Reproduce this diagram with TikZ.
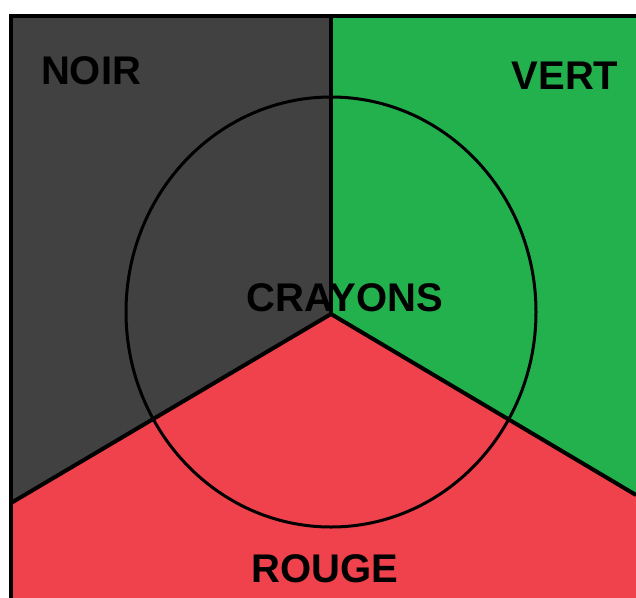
\documentclass[tikz,border=0pt]{standalone}
\usepackage{fontspec}
\setmainfont{Liberation Sans}
\definecolor{noir}{HTML}{414141}
\definecolor{vert}{HTML}{23B14D}
\definecolor{rouge}{HTML}{F0424C}
\tikzset{
  zone/.style={line width=4pt,line join=miter},
  label/.style={font=\fontsize{40}{40}\selectfont\bfseries,inner sep=0pt}
}
\begin{document}
\begin{tikzpicture}[x=1pt,y=-1pt]
\useasboundingbox (0,0) rectangle (636,597);
\clip (0,0) rectangle (636,597);
\coordinate (O) at (331,314);
\coordinate (L) at (11,503);
\coordinate (R) at (636,495);
% the three zones
\fill[noir] (11,16) -- (331,16) -- (O) -- (L) -- cycle;
\fill[vert] (331,16) -- (640,16) -- (640,497) -- (R) -- (O) -- cycle;
\fill[rouge] (L) -- (O) -- (R) -- (640,497) -- (640,600) -- (11,600) -- cycle;
% borders
\draw[zone] (640,16) -- (11,16) -- (11,600);
\draw[zone] (331,16) -- (O);
\draw[zone] (L) -- (O) -- (R);
% central circle
\draw[line width=3pt] (331,312) ellipse [x radius=205,y radius=215];
% labels
\node[label] (noirlbl) at (91,71) {NOIR};
\node[label] (vertlbl) at (565,76) {VERT};
\node[label] (crayons) at (345,298) {CRAYONS};
\node[label] (rougelbl) at (325,569) {ROUGE};
\end{tikzpicture}
\end{document}
